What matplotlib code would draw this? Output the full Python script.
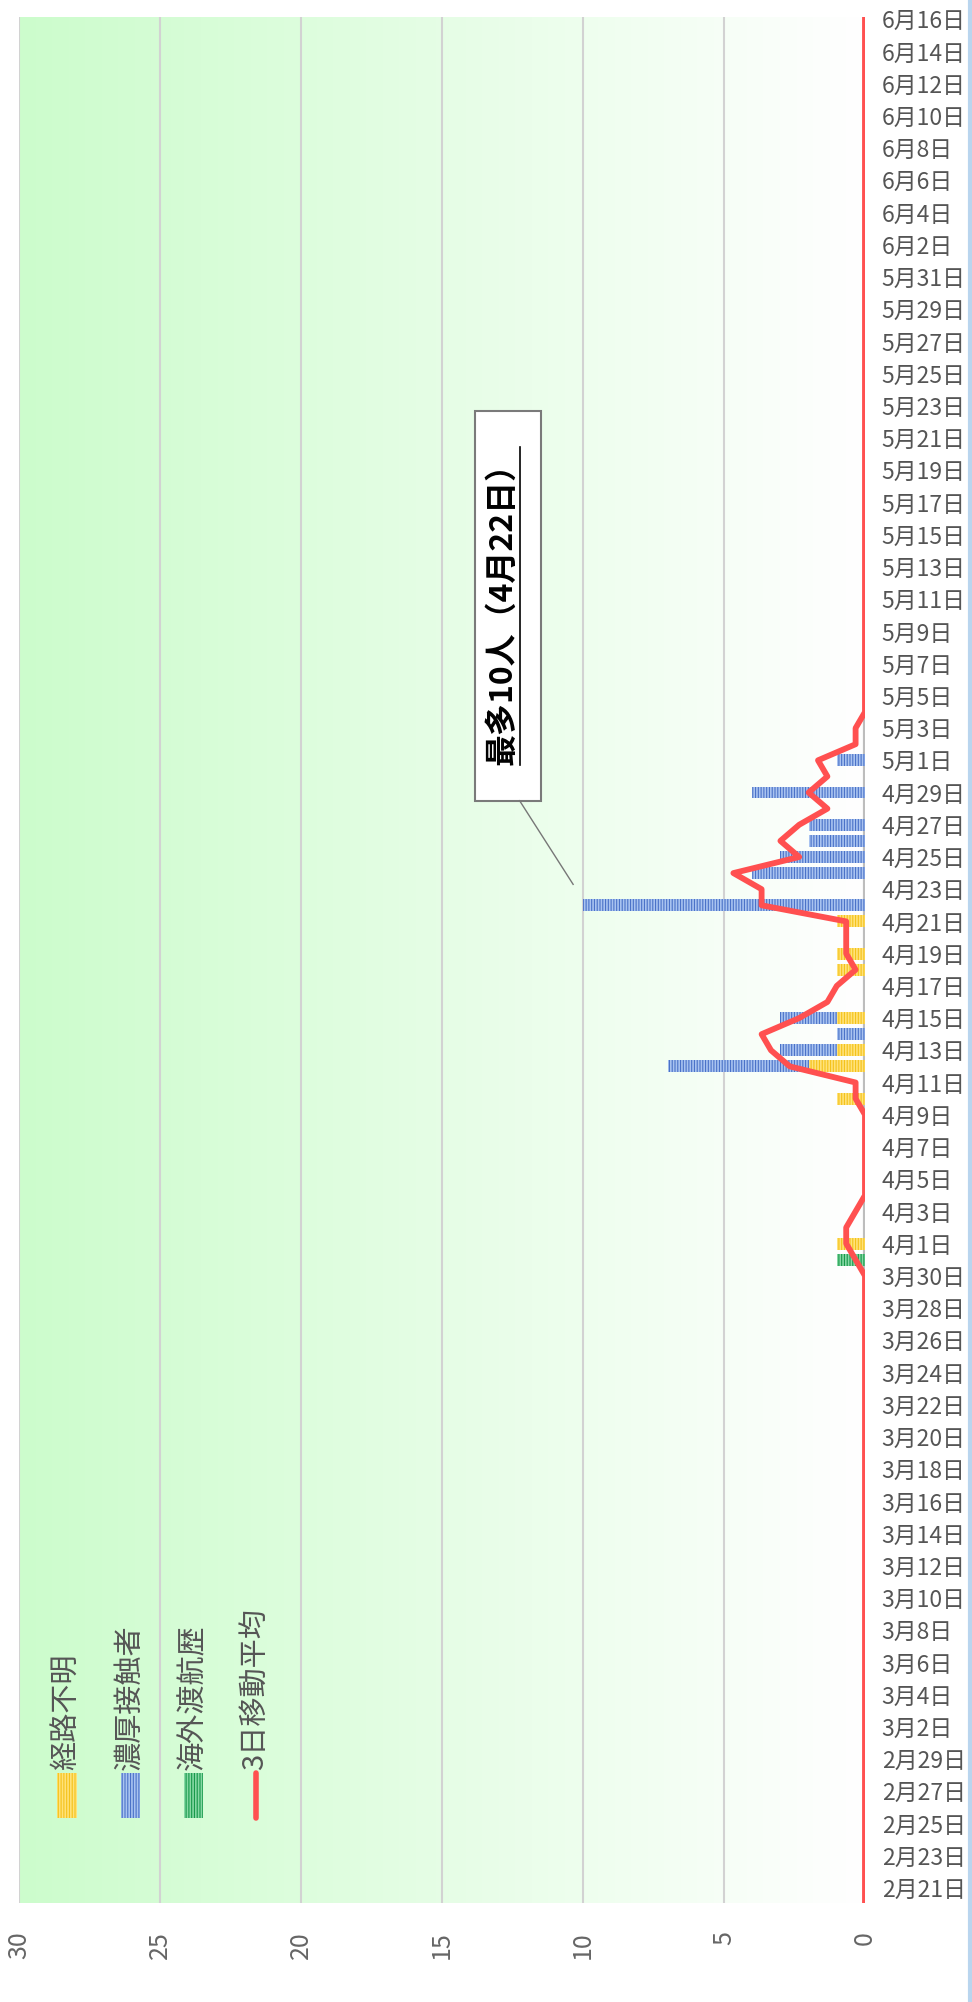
import matplotlib
matplotlib.use("Agg")
import matplotlib.pyplot as plt
import numpy as np
import pandas as pd
from matplotlib.lines import Line2D
from matplotlib.patches import Rectangle

plt.rcParams["font.family"] = ["Noto Sans CJK JP", "DejaVu Sans"]
plt.rcParams["hatch.linewidth"] = 1.2

# daily counts (dates without a bar are zero)
unknown_dates = ["2020-04-01", "2020-04-10", "2020-04-12", "2020-04-13",
                 "2020-04-15", "2020-04-18", "2020-04-19", "2020-04-21"]
unknown_counts = [1, 1, 2, 1, 1, 1, 1, 1]

contact_dates = ["2020-04-12", "2020-04-13", "2020-04-14", "2020-04-15", "2020-04-22",
                 "2020-04-24", "2020-04-25", "2020-04-26", "2020-04-27", "2020-04-29",
                 "2020-05-01"]
contact_counts = [5, 2, 1, 2, 10, 4, 3, 2, 2, 4, 1]

overseas_dates = ["2020-03-31"]
overseas_counts = [1]

series_names = ["経路不明", "濃厚接触者", "海外渡航歴", "3日移動平均"]
note_text = "最多10人（4月22日）"
x_ticks = [0, 5, 10, 15, 20, 25, 30]

days = pd.date_range("2020-02-20", "2020-06-16", freq="D")
frame = pd.DataFrame(index=days)
frame["unknown"] = pd.Series(unknown_counts, index=pd.to_datetime(unknown_dates))
frame["contact"] = pd.Series(contact_counts, index=pd.to_datetime(contact_dates))
frame["overseas"] = pd.Series(overseas_counts, index=pd.to_datetime(overseas_dates))
frame = frame.fillna(0)
frame["total"] = frame[["unknown", "contact", "overseas"]].sum(axis=1)
frame["ma3"] = frame["total"].rolling(3, min_periods=1).mean()

pos = np.arange(len(frame)) - 1  # 2/21 sits at 0
tick_pos = pos[1::2]
tick_labels = [f"{d.month}月{d.day}日" for d in frame.index[1::2]]

colors = {
    "unknown": ("#f4c21a", "#ffe27a"),
    "contact": ("#4a72c8", "#a9c3f0"),
    "overseas": ("#17984a", "#86d8a4"),
}
line_color = "#ff5050"
text_gray = "#555555"

fig = plt.figure(figsize=(9.72, 20.02), dpi=100)
ax = fig.add_axes([19 / 972, 1 - 1903 / 2002, 846 / 972, 1886 / 2002])

grad = np.linspace(0, 1, 256)[None, :]
left_col = np.array([0.80, 0.99, 0.80])
img = left_col[None, None, :] * (1 - grad[..., None]) + np.ones(3)[None, None, :] * grad[..., None]
ax.imshow(img, extent=[0, 1, 0, 1], transform=ax.transAxes, aspect="auto", zorder=0)

for v in x_ticks[1:]:
    ax.axvline(v, color="#d2d2d2", lw=1.5, zorder=1)

left = np.zeros(len(frame))
for key in ["unknown", "contact", "overseas"]:
    face, stripe = colors[key]
    vals = frame[key].to_numpy()
    mask = vals > 0
    ax.barh(pos[mask], vals[mask], left=left[mask], height=0.74, color=face,
            edgecolor=stripe, linewidth=0, hatch="||||||", zorder=3)
    left += vals

ax.axvline(0, color="#bdbdbd", lw=3, zorder=2)
ax.plot(frame["ma3"], pos, color=line_color, lw=4.2, zorder=5)

ax.set_xlim(30, 0)
ax.set_ylim(-0.93, 116.14)
ax.set_xticks(x_ticks)
ax.set_xticklabels([str(v) for v in x_ticks], rotation=90, fontsize=18, color="#666666")
ax.tick_params(axis="x", length=0, pad=20)
ax.yaxis.tick_right()
ax.set_yticks(tick_pos)
ax.set_yticklabels(tick_labels, fontsize=16.5, color=text_gray)
ax.tick_params(axis="y", length=0, pad=12)
for s in ["top", "bottom", "right", "left"]:
    ax.spines[s].set_visible(False)

# legend drawn by hand, vertical text like the original
lx0, dx = 0.0567, 0.0745
for i, key in enumerate(["unknown", "contact", "overseas"]):
    face, stripe = colors[key]
    ax.add_patch(Rectangle((lx0 + i * dx - 0.0112, 0.045), 0.0225, 0.024, transform=ax.transAxes,
                           facecolor=face, edgecolor=stripe, linewidth=0, hatch="||||||", zorder=6))
ax.add_line(Line2D([lx0 + 3 * dx] * 2, [0.045, 0.069], transform=ax.transAxes,
                   color=line_color, lw=4, solid_capstyle="round", zorder=6))
for i, name in enumerate(series_names):
    ax.text(lx0 + i * dx, 0.0705, name, transform=ax.transAxes, rotation=90,
            ha="center", va="bottom", fontsize=21, color=text_gray, zorder=6)

# peak annotation
peak_day = frame["total"].idxmax()
peak_pos = pos[frame.index.get_loc(peak_day)]
peak_val = frame["total"].max()
note = ax.text(12.85, 79.6, note_text, rotation=90, ha="center", va="center",
               fontsize=23, fontweight="bold", color="black", zorder=8)
fig.canvas.draw()
bb = note.get_window_extent()
inv = ax.transData.inverted()
(bx0, by0) = inv.transform((bb.x0 - 12, bb.y0 - 36))
(bx1, by1) = inv.transform((bb.x1 + 22, bb.y1 + 36))
ax.add_patch(Rectangle((bx0, by0), bx1 - bx0, by1 - by0, facecolor="white",
                       edgecolor="#7a7a7a", linewidth=1.5, zorder=7))
(ux, uy0) = inv.transform((bb.x1 + 1, bb.y0))
(_, uy1) = inv.transform((bb.x1 + 1, bb.y1))
ax.plot([ux, ux], [uy0, uy1], color="black", lw=1.2, zorder=8)
ax.plot([ux, peak_val + 0.35], [by0, peak_pos + 1.3], color="#777777", lw=1, zorder=7)

fig.add_artist(Line2D([0.998, 0.998], [0, 1], transform=fig.transFigure, color="#b9d5ee", lw=3))

fig.savefig("out.png", dpi=100)
